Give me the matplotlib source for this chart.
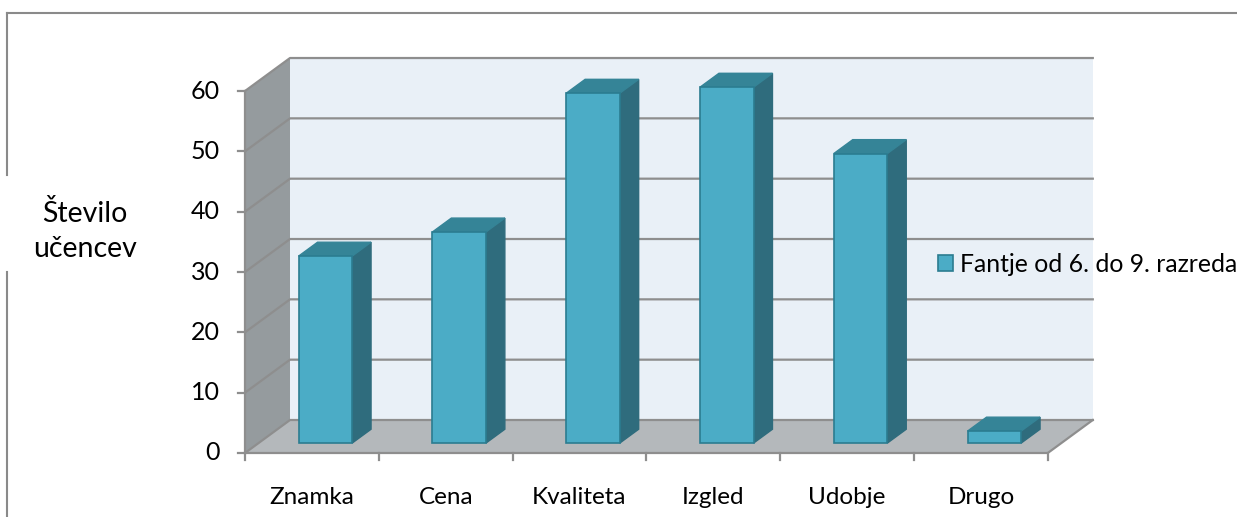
import matplotlib.pyplot as plt
import matplotlib as mpl
from matplotlib.patches import Polygon, Patch
from matplotlib.lines import Line2D

mpl.rcParams['font.family'] = ['Lato', 'DejaVu Sans']

# data
categories = ['Znamka', 'Cena', 'Kvaliteta', 'Izgled', 'Udobje', 'Drugo']
values = [31, 35, 58, 59, 48, 2]
series_name = 'Fantje od 6. do 9. razreda'
y_ticks = [0, 10, 20, 30, 40, 50, 60]
y_title = 'Število\nučencev'

# colours
front_c = '#4BACC6'
top_c = '#358497'
side_c = '#2F6C7D'
edge_c = '#2B7C90'
wall_c = '#E9F0F7'
side_wall_c = '#959B9E'
floor_c = '#B4B8BB'
grid_c = '#8E8E8E'

W, H = 1237, 517
fig = plt.figure(figsize=(W / 100, H / 100), dpi=100)
ax = fig.add_axes([0, 0, 1, 1])

# pixel layout of the plot box
X0_PX, CAT_PX = 245, 133.8      # left of floor front, px per category
Y0_PX, UNIT_PX = 453, 6.033     # zero line, px per unit
DX_PX, DY_PX = 45, 33           # depth offset
n = len(categories)
ax.set_xlim(-0.5 - X0_PX / CAT_PX, -0.5 + (W - X0_PX) / CAT_PX)
ax.set_ylim(-(H - Y0_PX) / UNIT_PX, Y0_PX / UNIT_PX)
ax.axis('off')

DX = DX_PX / CAT_PX
DY = DY_PX / UNIT_PX
vmax = max(y_ticks)
xl, xr = -0.5, n - 0.5


def P(x, v, d):
    return (x + DX * d, v + DY * d)


def px(xp, yp):
    return (-0.5 + (xp - X0_PX) / CAT_PX, (Y0_PX - yp) / UNIT_PX)


# walls and floor
ax.add_patch(Polygon([P(xl, 0, 1), P(xr, 0, 1), P(xr, vmax, 1), P(xl, vmax, 1)],
                     closed=True, fc=wall_c, ec='none', zorder=1))
ax.add_patch(Polygon([P(xl, 0, 0), P(xl, 0, 1), P(xl, vmax, 1), P(xl, vmax, 0)],
                     closed=True, fc=side_wall_c, ec='none', zorder=1))
ax.add_patch(Polygon([P(xl, 0, 0), P(xr, 0, 0), P(xr, 0, 1), P(xl, 0, 1)],
                     closed=True, fc=floor_c, ec='none', zorder=1))

# gridlines on back and side wall
for t in y_ticks:
    a, b, c = P(xl, t, 0), P(xl, t, 1), P(xr, t, 1)
    ax.plot([a[0], b[0], c[0]], [a[1], b[1], c[1]], color=grid_c, lw=1.6, zorder=2)
# floor edges
pts = [P(xl, 0, 0), P(xr, 0, 0), P(xr, 0, 1)]
ax.plot([p[0] for p in pts], [p[1] for p in pts], color=grid_c, lw=1.6, zorder=2)

# front value axis + ticks
ax.plot([xl, xl], [0, vmax], color=grid_c, lw=1.6, zorder=3)
tick_len = 7 / CAT_PX
for t in y_ticks:
    ax.plot([xl - tick_len, xl], [t, t], color=grid_c, lw=1.6, zorder=3)
    ax.text(xl - 25 / CAT_PX, t, str(t), ha='right', va='center', fontsize=18)

# category ticks and labels
for i in range(n + 1):
    ax.plot([xl + i, xl + i], [0, -7 / UNIT_PX], color=grid_c, lw=1.6, zorder=3)
for i, name in enumerate(categories):
    ax.text(i, -45 / UNIT_PX, name, ha='center', va='center', fontsize=17.5)

# bars
d0, d1 = 0.30, 0.72
hw = 0.2
for i, v in enumerate(values):
    a, b = i - hw, i + hw
    front = [P(a, 0, d0), P(b, 0, d0), P(b, v, d0), P(a, v, d0)]
    top = [P(a, v, d0), P(b, v, d0), P(b, v, d1), P(a, v, d1)]
    side = [P(b, 0, d0), P(b, 0, d1), P(b, v, d1), P(b, v, d0)]
    ax.add_patch(Polygon(side, closed=True, fc=side_c, ec=side_c, lw=1, zorder=4))
    ax.add_patch(Polygon(top, closed=True, fc=top_c, ec=top_c, lw=1, zorder=4))
    ax.add_patch(Polygon(front, closed=True, fc=front_c, ec=edge_c, lw=1.2, zorder=5))

# axis title
tx, ty = px(85, 231)
ax.text(tx, ty, y_title, ha='center', va='center', fontsize=20.5, linespacing=1.4)

# legend
handle = Patch(facecolor=front_c, edgecolor=edge_c, lw=1.2, label=series_name)
fig.legend(handles=[handle], loc='center left', bbox_to_anchor=(938 / W, 1 - 264 / H),
           frameon=False, fontsize=17.8, handlelength=0.6, handleheight=0.6,
           handletextpad=0.28, borderpad=0, borderaxespad=0)

# chart area border (broken behind the axis title)
bc = '#8A8A8A'
fig.add_artist(Line2D([7 / W, 1], [1 - 13 / H, 1 - 13 / H], color=bc, lw=1.5))
fig.add_artist(Line2D([7 / W, 7 / W], [1 - 13 / H, 1 - 175 / H], color=bc, lw=1.5))
fig.add_artist(Line2D([7 / W, 7 / W], [1 - 272 / H, 0], color=bc, lw=1.5))

fig.savefig('out.png', dpi=100)
